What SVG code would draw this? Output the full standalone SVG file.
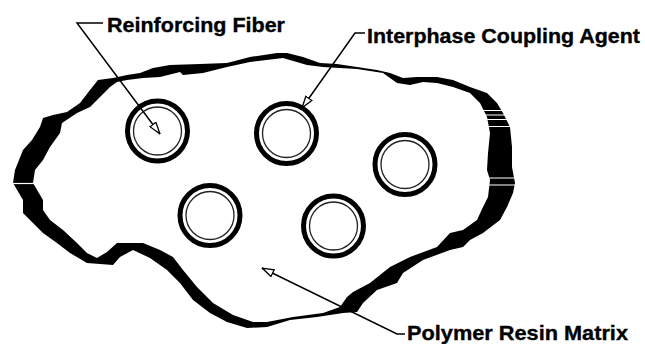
<svg xmlns="http://www.w3.org/2000/svg" width="645" height="344" viewBox="0 0 645 344">
<style>
.lbl{font-family:"Liberation Sans",Arial,Helvetica,sans-serif;font-weight:bold;font-size:20.5px;fill:#000;stroke:#000;stroke-width:0.35}
.ring{fill:#fff;stroke:#000;stroke-width:5}
.core{fill:none;stroke:#222;stroke-width:1.3}
.lead{fill:none;stroke:#000;stroke-width:1.5}
.stripe{stroke:#fff;stroke-width:1.2}
</style>
<defs>
<marker id="openArrow" viewBox="0 0 13 9" refX="12.5" refY="4.5" markerWidth="13" markerHeight="9" markerUnits="userSpaceOnUse" orient="auto">
<path d="M0.7,0.8 L12.3,4.5 L0.7,8.2 Z" fill="#fff" stroke="#000" stroke-width="1.3"/>
</marker>
</defs>
<rect width="645" height="344" fill="#fff"/>
<g id="matrix">
<path fill="#000" fill-rule="evenodd" d="M13,183 L15,170 L23,150 L32,140 L40,127 L43,118 L53,115 L67,112 L80,103 L90,90 L98,80 L113,78 L127,75 L140,73 L153,68 L170,65 L200,64 L227,63 L250,57 L277,53 L287,53 L303,57 L320,63 L337,64 L357,67 L377,70 L390,73 L403,78 L417,77 L437,77 L453,80 L470,87 L487,93 L497,103 L503,113 L510,127 L512,147 L512,167 L515,183 L513,193 L507,207 L500,220 L483,233 L470,240 L463,247 L450,250 L423,260 L403,273 L397,283 L377,290 L363,303 L357,312 L343,313 L317,317 L290,320 L267,327 L247,328 L227,322 L210,313 L193,300 L180,283 L167,270 L150,258 L133,250 L120,257 L113,265 L87,263 L70,253 L57,243 L43,233 L33,223 L23,213 L23,200 Z M33,183 L35,170 L43,160 L50,147 L60,133 L62,123 L77,113 L90,107 L100,97 L110,87 L117,82 L127,80 L143,78 L160,77 L180,72 L183,75 L203,73 L227,67 L250,62 L283,58 L307,65 L323,67 L357,69 L383,73 L397,83 L410,85 L423,82 L437,83 L453,87 L470,93 L480,103 L487,117 L490,133 L488,153 L487,170 L490,180 L488,197 L483,207 L477,220 L463,230 L450,233 L437,247 L410,257 L390,267 L370,283 L353,292 L347,297 L340,307 L323,313 L293,317 L267,322 L253,322 L233,315 L213,303 L197,287 L183,270 L173,257 L160,250 L143,243 L117,243 L107,252 L97,258 L87,253 L77,243 L63,230 L50,220 L43,210 L43,200 Z"/>
<line class="stripe" x1="480" y1="110.5" x2="520" y2="110.5"/>
<line class="stripe" x1="480" y1="115" x2="520" y2="115"/>
<line class="stripe" x1="480" y1="119.5" x2="520" y2="119.5"/>
<line class="stripe" x1="480" y1="126.5" x2="520" y2="126.5"/>
<line class="stripe" x1="480" y1="178" x2="520" y2="178"/>
<line class="stripe" x1="480" y1="185" x2="520" y2="185"/>
<line class="stripe" x1="8" y1="183.5" x2="40" y2="183.5"/>
</g>
<g id="fiber1"><circle class="ring" cx="157.5" cy="131" r="30"/><circle class="core" cx="157.5" cy="131" r="24"/></g>
<g id="fiber2"><circle class="ring" cx="286.5" cy="133.5" r="30"/><circle class="core" cx="286.5" cy="133.5" r="24"/></g>
<g id="fiber3"><circle class="ring" cx="405" cy="164.5" r="30"/><circle class="core" cx="405" cy="164.5" r="24"/></g>
<g id="fiber4"><circle class="ring" cx="210" cy="215.5" r="30"/><circle class="core" cx="210" cy="215.5" r="24"/></g>
<g id="fiber5"><circle class="ring" cx="333.5" cy="226" r="30"/><circle class="core" cx="333.5" cy="226" r="24"/></g>
<g id="connectors">
<path class="lead" d="M103,23 H77 L160,134" marker-end="url(#openArrow)"/>
<path class="lead" d="M365,33 H355 L302,108" marker-end="url(#openArrow)"/>
<path class="lead" d="M405,334 H397 L262,268" marker-end="url(#openArrow)"/>
</g>
<g id="label-fiber"><text class="lbl" x="107" y="31.5" textLength="178" lengthAdjust="spacingAndGlyphs">Reinforcing Fiber</text></g>
<g id="label-agent"><text class="lbl" x="367" y="43" textLength="273" lengthAdjust="spacingAndGlyphs">Interphase Coupling Agent</text></g>
<g id="label-matrix"><text class="lbl" x="407" y="339.5" textLength="221" lengthAdjust="spacingAndGlyphs">Polymer Resin Matrix</text></g>
</svg>
